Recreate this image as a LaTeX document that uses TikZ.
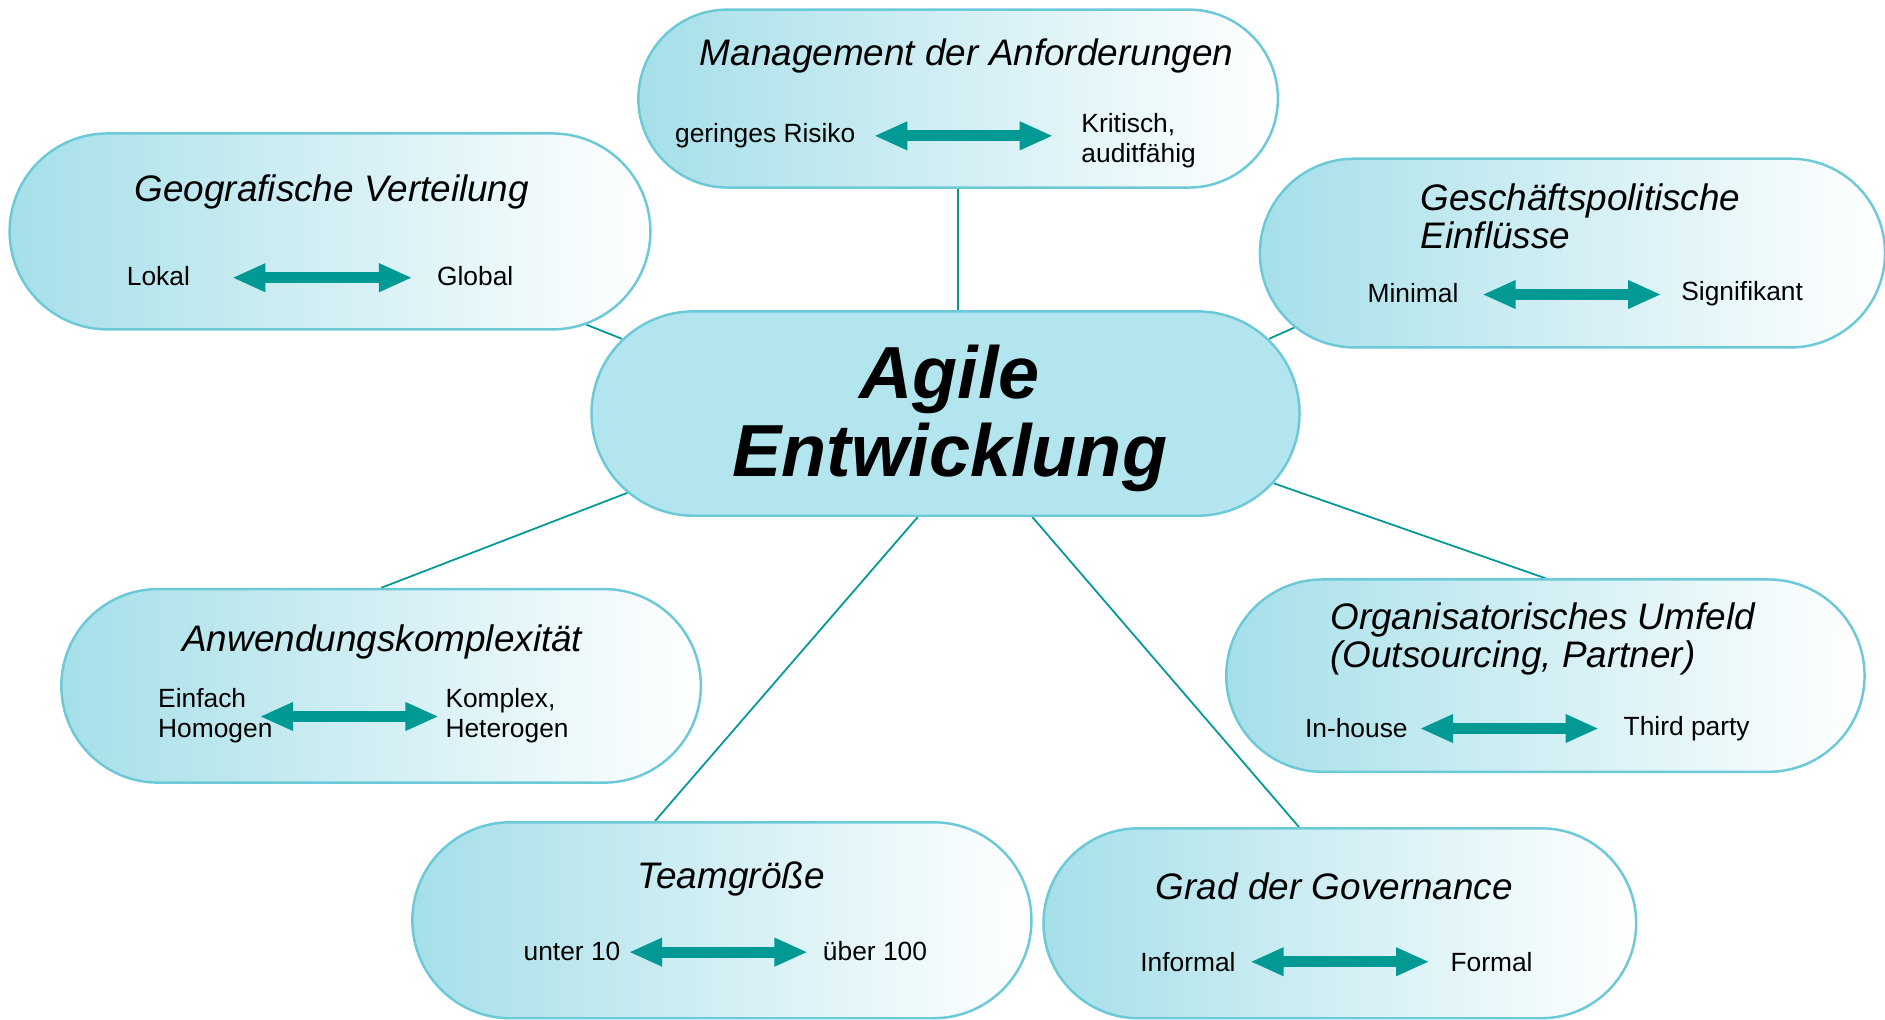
\documentclass[tikz,border=0pt]{standalone}
\usepackage{fontspec}
\setmainfont{Liberation Sans}
\usetikzlibrary{arrows.meta,shapes.misc,backgrounds}

\definecolor{rand}{HTML}{6CC9D8}
\definecolor{blase}{HTML}{A6DFE9}
\definecolor{kern}{HTML}{B2E5EE}
\definecolor{petrol}{HTML}{009994}

\newdimen\upx \upx=0.12022mm

\begin{document}
\begin{tikzpicture}[x=0.12022mm, y=-0.12022mm,
    bubble/.style={rounded rectangle, draw=rand, line width=0.7pt, left color=blase, right color=white, inner sep=0pt},
    kernel/.style={rounded rectangle, draw=rand, line width=0.7pt, fill=kern, inner sep=0pt},
    kerntext/.style={align=center, inner sep=0pt, font=\fontsize{21}{22}\selectfont\bfseries\itshape},
    titel/.style={font=\fontsize{10.5}{11}\selectfont\itshape, inner sep=0pt, align=left},
    wert/.style={font=\fontsize{7.5}{8.6}\selectfont, inner sep=0pt, anchor=west, align=left},
    dblarr/.style={draw=petrol, line width=3.2pt, {Triangle[width=7.5pt,length=9.5pt]}-{Triangle[width=7.5pt,length=9.5pt]}},
    verb/.style={draw=petrol, line width=0.5pt}
]
\useasboundingbox (0,0) rectangle (1568,848);

% Blasen
\node[bubble, minimum width=532\upx, minimum height=148\upx] (man) at (797,82) {};
\node[bubble, minimum width=533\upx, minimum height=163\upx] (geo) at (274.5,192.5) {};
\node[bubble, minimum width=520\upx, minimum height=157\upx] (ges) at (1308,210.5) {};
\node[bubble, minimum width=532\upx, minimum height=161\upx] (anw) at (317,570.5) {};
\node[bubble, minimum width=531\upx, minimum height=160\upx] (org) at (1285.5,562) {};
\node[bubble, minimum width=515\upx, minimum height=163\upx] (team) at (600.5,765.5) {};
\node[bubble, minimum width=493\upx, minimum height=158\upx] (grad) at (1114.5,768) {};
\node[kernel, minimum width=589\upx, minimum height=170\upx] (agile) at (786.5,344) {};
\node[kerntext] (agilet) at (790,348) {Agile\\Entwicklung};

% Titel
\node[titel] (mant) at (804,46.5) {Management der Anforderungen};
\node[titel] (geot) at (276,159.5) {Geografische Verteilung};
\node[titel, anchor=west] (gest) at (1181,180) {Geschäftspolitische\\Einflüsse};
\node[titel] (anwt) at (318,534) {Anwendungskomplexität};
\node[titel, anchor=west] (orgt) at (1106,531.5) {Organisatorisches Umfeld\\(Outsourcing, Partner)};
\node[titel] (teamt) at (608,731.5) {Teamgröße};
\node[titel] (gradt) at (1110,737) {Grad der Governance};

% Skalen
\node[wert] (manl) at (561,113) {geringes Risiko};
\node[wert] (manr) at (899,117) {Kritisch,\\auditfähig};
\node[wert] (geol) at (105,230) {Lokal};
\node[wert] (geor) at (363,230) {Global};
\node[wert] (gesl) at (1137,244) {Minimal};
\node[wert] (gesr) at (1398,244) {Signifikant};
\node[wert] (anwl) at (131,595) {Einfach\\Homogen};
\node[wert] (anwr) at (370,595) {Komplex,\\Heterogen};
\node[wert] (orgl) at (1085,606) {In-house};
\node[wert] (orgr) at (1350,606) {Third party};
\node[wert] (teaml) at (435,791) {unter 10};
\node[wert] (teamr) at (684,791) {über 100};
\node[wert] (gradl) at (948,800) {Informal};
\node[wert] (gradr) at (1206,800) {Formal};

\draw[dblarr] (727,113) -- (876,113);
\draw[dblarr] (193,231) -- (343,231);
\draw[dblarr] (1233,245) -- (1382,245);
\draw[dblarr] (216,596) -- (365,596);
\draw[dblarr] (1181,606) -- (1330,606);
\draw[dblarr] (523,792) -- (672,792);
\draw[dblarr] (1040,800) -- (1189,800);

% Verbindungen
\begin{scope}[on background layer]
\draw[verb] (man.south) -- (man.south |- agile.north);
\draw[verb] (geo.-20) -- (agile.167);
\draw[verb] (ges.-165) -- (agile.13);
\draw[verb] (agile.-166) -- (anw.north);
\draw[verb] (agile.-105) -- (team.124);
\draw[verb] (agile.-50) -- (grad.113);
\draw[verb] (agile.-12) -- (org.north);
\end{scope}
\end{tikzpicture}
\end{document}
